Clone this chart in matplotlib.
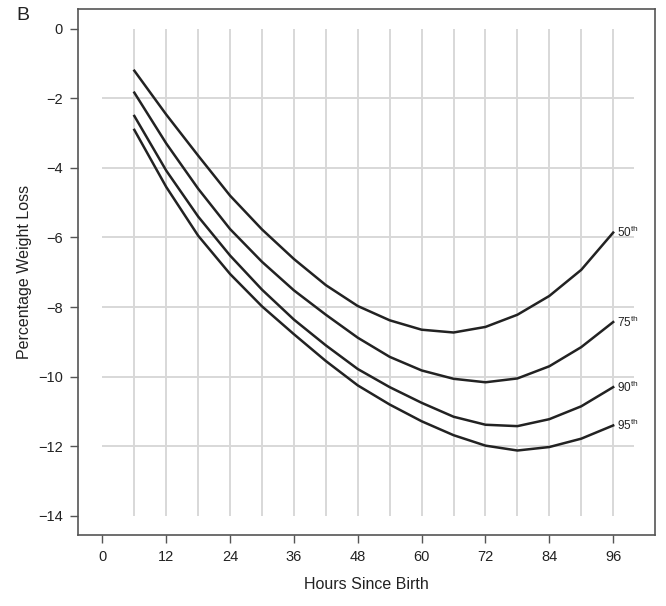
import matplotlib
matplotlib.use("Agg")
import matplotlib.pyplot as plt

plt.rcParams['font.family'] = ['Liberation Sans', 'DejaVu Sans']
plt.rcParams['mathtext.fontset'] = 'custom'
plt.rcParams['mathtext.rm'] = 'Liberation Sans'

# hours since birth at which the curves were read
hours = [6, 12, 18, 24, 30, 36, 42, 48, 54, 60, 66, 72, 78, 84, 90, 96]

# percentage weight loss
p50 = [-1.21, -2.47, -3.65, -4.80, -5.77, -6.62, -7.37, -7.97,
       -8.38, -8.65, -8.73, -8.57, -8.22, -7.68, -6.93, -5.86]
p75 = [-1.84, -3.30, -4.60, -5.76, -6.70, -7.52, -8.22, -8.88,
       -9.43, -9.82, -10.06, -10.16, -10.05, -9.70, -9.15, -8.43]
p90 = [-2.51, -4.08, -5.40, -6.52, -7.50, -8.36, -9.10, -9.78,
       -10.30, -10.75, -11.15, -11.38, -11.42, -11.22, -10.85, -10.30]
p95 = [-2.91, -4.55, -5.95, -7.05, -7.98, -8.78, -9.55, -10.25,
       -10.80, -11.28, -11.68, -11.98, -12.12, -12.02, -11.78, -11.40]

series = [p50, p75, p90, p95]
labels = ['50', '75', '90', '95']

xticks = [0, 12, 24, 36, 48, 60, 72, 84, 96]
yticks = [0, -2, -4, -6, -8, -10, -12, -14]
vgrid = list(range(6, 97, 6))
hgrid = [-2, -4, -6, -8, -10, -12]

fig = plt.figure(figsize=(6.66, 6.06), dpi=100)
ax = fig.add_axes([0.117, 0.117, 0.866, 0.868])

grid_col = '#d8d8d8'
ax.vlines(vgrid, -14, 0, color=grid_col, lw=1.4, zorder=1)
ax.hlines(hgrid, 0, 100, color=grid_col, lw=1.4, zorder=1)

for vals, lab in zip(series, labels):
    ax.plot(hours, vals, color='#222222', lw=1.8, zorder=3,
            solid_joinstyle='round')
    ax.text(96.8, vals[-1], lab + r'$^{\mathrm{th}}$', fontsize=8.5,
            va='center', ha='left', color='#222222')

ax.set_xlim(-4.6, 103.8)
ax.set_ylim(-14.55, 0.56)
ax.set_xticks(xticks)
ax.set_yticks(yticks)
ax.tick_params(direction='out', length=6, width=1, color='#555555',
               labelsize=10.5, labelcolor='#222222', pad=5)
for sp in ax.spines.values():
    sp.set_color('#555555')
    sp.set_linewidth(1.2)

ax.set_xlabel('Hours Since Birth', fontsize=11.5, color='#222222', labelpad=9)
ax.set_ylabel('Percentage Weight Loss', fontsize=11.5, color='#222222', labelpad=4)

fig.text(0.024, 0.975, 'B', fontsize=14, color='#222222', va='center', ha='left')

fig.savefig('out.png', dpi=100)
